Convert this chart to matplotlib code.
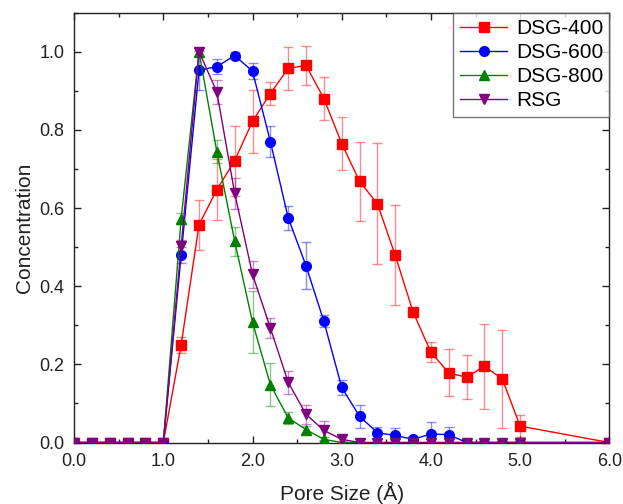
import matplotlib
matplotlib.use("Agg")
import matplotlib.pyplot as plt
from matplotlib.ticker import MultipleLocator, FormatStrFormatter

# ============================================================
# Data
# ============================================================

pore_size = [0.0, 0.2, 0.4, 0.6, 0.8, 1.0, 1.2, 1.4, 1.6, 1.8, 2.0, 2.2, 2.4, 2.6,
             2.8, 3.0, 3.2, 3.4, 3.6, 3.8, 4.0, 4.2, 4.4, 4.6, 4.8, 5.0, 6.0]

dsg400 = [0, 0, 0, 0, 0, 0, 0.250, 0.557, 0.647, 0.721, 0.822, 0.893, 0.957, 0.965,
          0.880, 0.765, 0.668, 0.611, 0.479, 0.334, 0.231, 0.178, 0.167, 0.195, 0.163, 0.042, 0.0]
dsg400_err = [0, 0, 0, 0, 0, 0, 0.020, 0.064, 0.078, 0.090, 0.080, 0.030, 0.055, 0.050,
              0.055, 0.067, 0.100, 0.155, 0.128, 0.008, 0.025, 0.060, 0.056, 0.108, 0.125, 0.028, 0.0]

dsg600 = [0, 0, 0, 0, 0, 0, 0.480, 0.952, 0.962, 0.990, 0.950, 0.770, 0.575, 0.452,
          0.310, 0.141, 0.067, 0.025, 0.018, 0.008, 0.022, 0.020, 0, 0, 0, 0, 0]
dsg600_err = [0, 0, 0, 0, 0, 0, 0.020, 0.050, 0.020, 0.010, 0.020, 0.040, 0.030, 0.060,
              0.015, 0.020, 0.030, 0.015, 0.020, 0.005, 0.030, 0.020, 0, 0, 0, 0, 0]

dsg800 = [0, 0, 0, 0, 0, 0, 0.573, 1.000, 0.744, 0.515, 0.308, 0.148, 0.063, 0.033,
          0.008, 0, 0, 0, 0, 0, 0, 0, 0, 0, 0, 0, 0]
dsg800_err = [0, 0, 0, 0, 0, 0, 0.015, 0.010, 0.030, 0.037, 0.080, 0.055, 0.015, 0.010,
              0.005, 0, 0, 0, 0, 0, 0, 0, 0, 0, 0, 0, 0]

rsg = [0, 0, 0, 0, 0, 0, 0.502, 1.000, 0.897, 0.638, 0.430, 0.293, 0.154, 0.072,
       0.031, 0.008, 0, 0, 0, 0, 0, 0, 0, 0, 0, 0, 0]
rsg_err = [0, 0, 0, 0, 0, 0, 0.015, 0.010, 0.030, 0.040, 0.035, 0.025, 0.030, 0.025,
           0.025, 0.005, 0, 0, 0, 0, 0, 0, 0, 0, 0, 0, 0]

labels = ["DSG-400", "DSG-600", "DSG-800", "RSG"]
colors = ["#ff0000", "#0000ff", "#008000", "#800080"]
markers = ["s", "o", "^", "v"]

# ============================================================
# Plot
# ============================================================

plt.rcParams["font.family"] = ["Liberation Sans", "DejaVu Sans"]

fig = plt.figure(figsize=(6.23, 5.04), dpi=100)
ax = fig.add_axes([0.119, 0.122, 0.859, 0.853])

series = [(dsg400, dsg400_err), (dsg600, dsg600_err), (dsg800, dsg800_err), (rsg, rsg_err)]
for (vals, errs), lab, col, mk in zip(series, labels, colors, markers):
    # light error bars behind the line
    ax.errorbar(pore_size, vals, yerr=errs, fmt="none", ecolor=col, alpha=0.45,
                elinewidth=1.0, capsize=3.5, capthick=1.0, zorder=2)
    ax.plot(pore_size, vals, color=col, marker=mk, markersize=7, linewidth=1.0,
            label=lab, zorder=3)

ax.set_xlim(0, 6)
ax.set_ylim(0, 1.1)
ax.xaxis.set_major_locator(MultipleLocator(1.0))
ax.xaxis.set_minor_locator(MultipleLocator(0.5))
ax.yaxis.set_minor_locator(MultipleLocator(0.1))
ax.xaxis.set_major_formatter(FormatStrFormatter("%.1f"))
ax.yaxis.set_major_formatter(FormatStrFormatter("%.1f"))
ax.set_yticks([0.0, 0.2, 0.4, 0.6, 0.8, 1.0])

ax.tick_params(which="both", direction="in", top=True, right=True, labelsize=13,
               colors="#222222", width=1.0)
ax.tick_params(which="major", length=5)
ax.tick_params(which="minor", length=3)
ax.tick_params(axis="x", which="major", pad=7.5)
ax.tick_params(axis="y", which="major", pad=7)
for sp in ax.spines.values():
    sp.set_linewidth(1.0)
    sp.set_color("#222222")

ax.set_xlabel("Pore Size (Å)", fontsize=15, color="#222222", labelpad=9)
ax.set_ylabel("Concentration", fontsize=15, color="#222222", labelpad=4)

leg = ax.legend(loc="upper right", fontsize=15, borderaxespad=0, fancybox=False,
                handlelength=2.3, handletextpad=0.4, borderpad=0.3, labelspacing=0.25,
                markerscale=1.0)
leg.get_frame().set_edgecolor("#555555")
leg.get_frame().set_linewidth(1.0)

fig.savefig("out.png", dpi=100)
